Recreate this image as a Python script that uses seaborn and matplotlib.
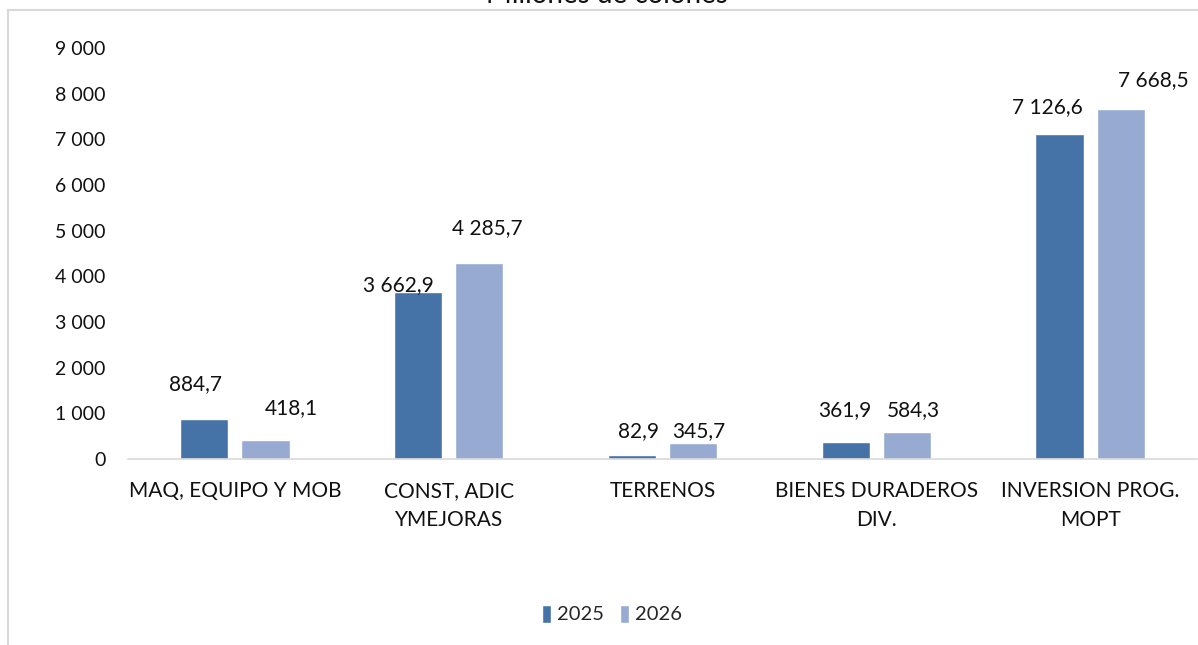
import pandas as pd
import numpy as np
import matplotlib.pyplot as plt
import seaborn as sns
from matplotlib.patches import Rectangle

# Datos
categorias = ["MAQ, EQUIPO Y MOB", "CONST, ADIC\nYMEJORAS", "TERRENOS",
              "BIENES DURADEROS\nDIV.", "INVERSION PROG.\nMOPT"]
valores_2025 = [884.7, 3662.9, 82.9, 361.9, 7126.6]
valores_2026 = [418.1, 4285.7, 345.7, 584.3, 7668.5]
anios = ["2025", "2026"]
ticks_y = [0, 1000, 2000, 3000, 4000, 5000, 6000, 7000, 8000, 9000]

# Desplazamientos de las etiquetas (pixeles) respecto al tope de cada barra
offsets_2025 = [(-9, 35), (-20, 7), (7, 24), (-1, 32), (-12, 26)]
offsets_2026 = [(26, 32), (8, 35), (6, 12), (6, 22), (33, 29)]

sns.set_theme(style="white")
plt.rcParams['font.family'] = ['Lato', 'DejaVu Sans']

df = pd.DataFrame({
    "categoria": categorias * 2,
    "valor": valores_2025 + valores_2026,
    "anio": [anios[0]] * 5 + [anios[1]] * 5,
})

def fmt(v, dec=1):
    s = f"{v:,.{dec}f}"
    return s.replace(",", " ").replace(".", ",")

fig = plt.figure(figsize=(11.98, 6.45), dpi=100)
ax = fig.add_axes([128 / 1198, (645 - 459) / 645, 1069 / 1198, 411 / 645])

colores = {"2025": "#4673A7", "2026": "#97ABD2"}
sns.barplot(data=df, x="categoria", y="valor", hue="anio", palette=colores,
            width=0.572, gap=0.213, saturation=1, ax=ax, legend=True)

ax.set_ylim(0, 9000)
ax.set_xlim(-0.5, 4.5)
ax.set_yticks(ticks_y)
ax.set_yticklabels([fmt(t, 0) for t in ticks_y], fontsize=14, color="#111111")
ax.tick_params(axis="y", length=0, pad=16)
ax.tick_params(axis="x", length=0, pad=16)
for lbl in ax.get_xticklabels():
    lbl.set_fontsize(15)
    lbl.set_color("#111111")
    lbl.set_linespacing(1.55)
ax.set_xlabel("")
ax.set_ylabel("")
for s in ["top", "right", "left"]:
    ax.spines[s].set_visible(False)
ax.spines["bottom"].set_color("#D9D9D9")
ax.spines["bottom"].set_linewidth(1.2)
ax.grid(False)

# Etiquetas de valores
for cont, vals, offs in zip(ax.containers, [valores_2025, valores_2026],
                            [offsets_2025, offsets_2026]):
    for bar, v, (dx, dy) in zip(cont, vals, offs):
        ax.annotate(fmt(v), (bar.get_x() + bar.get_width() / 2, bar.get_height()),
                    xytext=(dx, dy), textcoords="offset pixels",
                    ha="center", va="center", fontsize=15, color="#111111")

leg = ax.legend(loc="center", bbox_to_anchor=(612 / 1198, 1 - 614 / 645),
                bbox_transform=fig.transFigure, ncol=2, frameon=False,
                fontsize=14.5, handlelength=0.45, handleheight=1.0,
                handletextpad=0.3, columnspacing=0.8)

# Marco gris del grafico y titulo cortado
fig.patches.append(Rectangle((8 / 1198, -0.1), 1.2, 1 - 10 / 645 + 0.1,
                             transform=fig.transFigure, fill=False,
                             edgecolor="#D9D9D9", linewidth=1.5))
fig.text(607 / 1198, 1 - 3 / 645, "Millones de colones", ha="center",
         va="baseline", fontsize=20, color="#111111")

fig.savefig("out.png", dpi=100)
